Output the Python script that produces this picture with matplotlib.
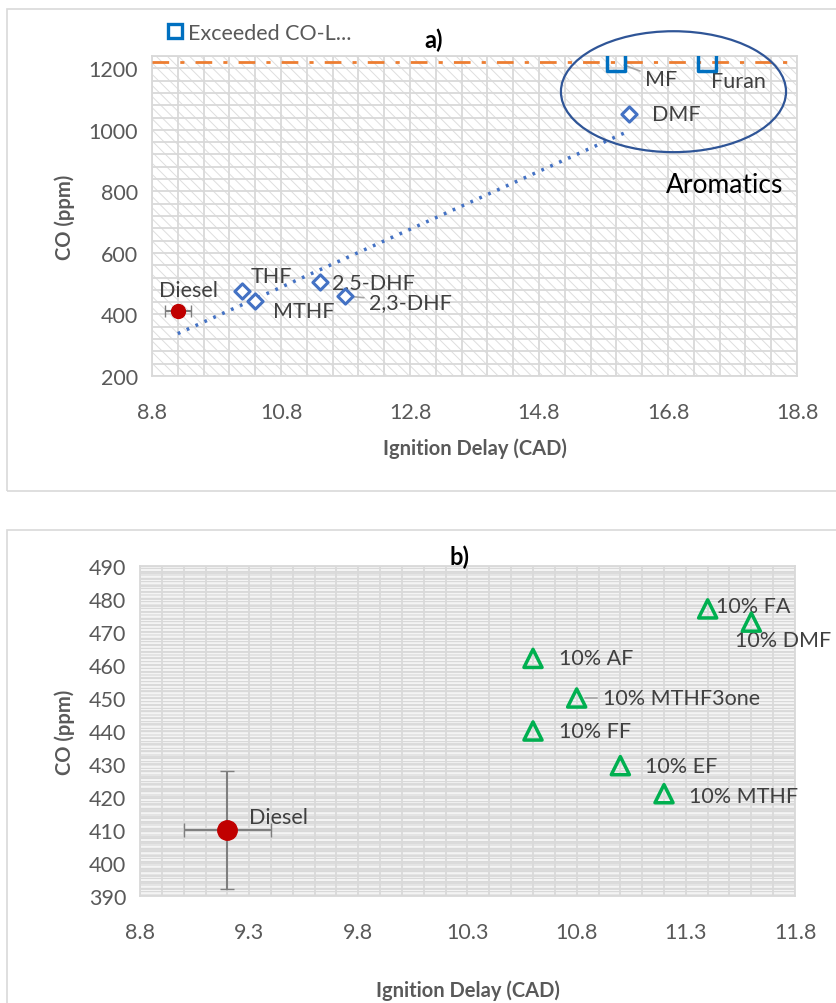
import matplotlib.pyplot as plt
import numpy as np
from matplotlib.lines import Line2D
from matplotlib.patches import Ellipse, Rectangle
from matplotlib.ticker import MultipleLocator

plt.rcParams["font.family"] = ["Lato", "DejaVu Sans"]
plt.rcParams["hatch.linewidth"] = 0.7

# panel a: neat fuels
diesel_delay = 9.2
diesel_co = 410
diesel_delay_err = 0.2
diesel_co_err = 18

fuel_names = ["THF", "MTHF", "2,5-DHF", "2,3-DHF", "DMF"]
fuel_delay = [10.2, 10.4, 11.4, 11.8, 16.2]
fuel_co = [476, 444, 505, 460, 1050]

exceed_names = ["MF", "Furan"]
exceed_delay = [16.0, 17.4]
exceed_co = [1220, 1220]
co_limit = 1220

# panel b: 10% blends
blend_names = ["10% FA", "10% DMF", "10% AF", "10% MTHF3one", "10% FF", "10% EF", "10% MTHF"]
blend_delay = [11.4, 11.6, 10.6, 10.8, 10.6, 11.0, 11.2]
blend_co = [477, 473, 462, 450, 440, 429.5, 421]

TICK_COLOR = "#595959"
LABEL_COLOR = "#404040"
GRID_COLOR = "#d9d9d9"
FS = 15.5

fig = plt.figure(figsize=(8.37, 10.04), dpi=100)

# chart-area frames
for y0, h in [(1 - 492 / 1004, 482 / 1004), (-0.05, 1 - 531 / 1004 + 0.05)]:
    fig.add_artist(Rectangle((7 / 837, y0), 1.0, h, transform=fig.transFigure,
                             facecolor="none", edgecolor=GRID_COLOR, lw=1.2))


def style_axes(ax, hatch, face, hatch_color):
    ax.set_facecolor(face)
    ax.patch.set_hatch(hatch)
    ax.patch.set_edgecolor(hatch_color)
    ax.grid(True, which="both", color=GRID_COLOR, lw=1.3)
    ax.set_axisbelow(True)
    for s in ax.spines.values():
        s.set_color(GRID_COLOR)
        s.set_linewidth(1.3)
    ax.tick_params(which="both", length=0, labelsize=FS, labelcolor=TICK_COLOR)
    ax.tick_params(axis="x", pad=19)
    ax.tick_params(axis="y", pad=10)
    ax.set_ylabel("CO (ppm)", fontsize=14.5, fontweight="bold", color=TICK_COLOR, labelpad=10)


def label(ax, text, x, y, dx, dy, ha="left", leader=False):
    kw = {}
    if leader:
        kw["arrowprops"] = dict(arrowstyle="-", color="#a6a6a6", lw=1.2, shrinkA=2, shrinkB=6)
    ax.annotate(text, (x, y), xytext=(dx, -dy), textcoords="offset pixels",
                ha=ha, va="center", fontsize=FS, color=LABEL_COLOR, **kw)


# ---------------- panel a ----------------
ax1 = fig.add_axes([152 / 837, 1 - 377 / 1004, 645 / 837, 320 / 1004])
style_axes(ax1, "\\\\\\", "white", "#dedede")
ax1.set_xlim(8.8, 18.8)
ax1.set_ylim(200, 1240)
ax1.set_xticks(np.arange(8.8, 18.81, 2.0))
ax1.set_xticklabels([f"{v:.1f}" for v in np.arange(8.8, 18.81, 2.0)])
ax1.set_yticks(np.arange(200, 1201, 200))
ax1.xaxis.set_minor_locator(MultipleLocator(0.4))
ax1.yaxis.set_minor_locator(MultipleLocator(40))
ax1.set_xlabel("Ignition Delay (CAD)", fontsize=14.5, fontweight="bold", color=TICK_COLOR, labelpad=11)

ax1.axhline(co_limit, color="#ED7D31", lw=2, ls=(0, (6, 4, 1.5, 4)), zorder=3)

trend_x = np.array([diesel_delay] + fuel_delay)
trend_y = np.array([diesel_co] + fuel_co)
slope, icept = np.polyfit(trend_x, trend_y, 1)
xs = np.array([trend_x.min(), trend_x.max()])
ax1.plot(xs, slope * xs + icept, color="#4472C4", lw=2.5, ls=(0, (0.8, 2.0)), zorder=3)

ax1.errorbar(diesel_delay, diesel_co, xerr=diesel_delay_err, fmt="o", ms=10,
             color="#C00000", ecolor="#7f7f7f", elinewidth=1.5, capsize=4, zorder=5)
ax1.scatter(fuel_delay, fuel_co, marker="D", s=60, facecolor="white",
            edgecolor="#4472C4", linewidth=2.2, zorder=5)
ax1.scatter(exceed_delay, exceed_co, marker="s", s=170, facecolor="none",
            edgecolor="#0070C0", linewidth=2.5, zorder=5)

label(ax1, "Diesel", diesel_delay, diesel_co, 11, -21, ha="center")
offsets_a = {"THF": (8, -15, False), "MTHF": (18, 10, False), "2,5-DHF": (12, 0, False),
             "2,3-DHF": (24, 6, True), "DMF": (23, 0, False)}
for n, x, y in zip(fuel_names, fuel_delay, fuel_co):
    dx, dy, ld = offsets_a[n]
    label(ax1, n, x, y, dx, dy, leader=ld)
offsets_ex = {"MF": (29, 17, True), "Furan": (4, 19, False)}
for n, x, y in zip(exceed_names, exceed_delay, exceed_co):
    dx, dy, ld = offsets_ex[n]
    label(ax1, n, x, y, dx, dy, leader=ld)

ax1.add_patch(Ellipse((16.885, 1124), 3.49, 393, facecolor="none",
                      edgecolor="#2F5597", lw=1.6, clip_on=False, zorder=6))
ax1.text(17.68, 823, "Aromatics", fontsize=19, color="black", ha="center", va="center")

fig.text(434 / 837, 1 - 40 / 1004, "a)", fontsize=17, fontweight="bold", ha="center", va="center")
fig.legend([Line2D([], [], marker="s", ls="none", ms=10, mfc="none", mec="#0070C0", mew=2.4)],
           ["Exceeded CO-L..."], loc="center left", bbox_to_anchor=(158 / 837, 1 - 34 / 1004),
           frameon=False, handlelength=0.6, handletextpad=0.3, fontsize=FS,
           labelcolor=TICK_COLOR, borderpad=0)

# ---------------- panel b ----------------
ax2 = fig.add_axes([140 / 837, 1 - 897 / 1004, 655 / 837, 330 / 1004])
style_axes(ax2, "-----", "#f4f4f4", "#d4d4d4")
ax2.set_xlim(8.8, 11.8)
ax2.set_ylim(390, 490)
ax2.set_xticks(np.arange(8.8, 11.81, 0.5))
ax2.set_xticklabels([f"{v:.1f}" for v in np.arange(8.8, 11.81, 0.5)])
ax2.set_yticks(np.arange(390, 491, 10))
ax2.xaxis.set_minor_locator(MultipleLocator(0.1))
ax2.yaxis.set_minor_locator(MultipleLocator(2))
ax2.set_xlabel("Ignition Delay (CAD)", fontsize=14.5, fontweight="bold", color=TICK_COLOR, labelpad=27)

ax2.errorbar(diesel_delay, diesel_co, xerr=diesel_delay_err, yerr=diesel_co_err, fmt="o", ms=14,
             color="#C00000", ecolor="#7f7f7f", elinewidth=1.5, capsize=5, zorder=5)
ax2.scatter(blend_delay, blend_co, marker="^", s=170, facecolor="none",
            edgecolor="#00B050", linewidth=2.5, zorder=5)

label(ax2, "Diesel", diesel_delay, diesel_co, 22, -13)
offsets_b = {"10% FA": (8, -3, False), "10% DMF": (-16, 18, False), "10% AF": (26, 0, False),
             "10% MTHF3one": (26, 0, True), "10% FF": (26, 0, False), "10% EF": (25, 0, False),
             "10% MTHF": (25, 2, False)}
for n, x, y in zip(blend_names, blend_delay, blend_co):
    dx, dy, ld = offsets_b[n]
    label(ax2, n, x, y, dx, dy, leader=ld)

fig.text(460 / 837, 1 - 557 / 1004, "b)", fontsize=17, fontweight="bold", ha="center", va="center")

fig.savefig("out.png", dpi=100)
